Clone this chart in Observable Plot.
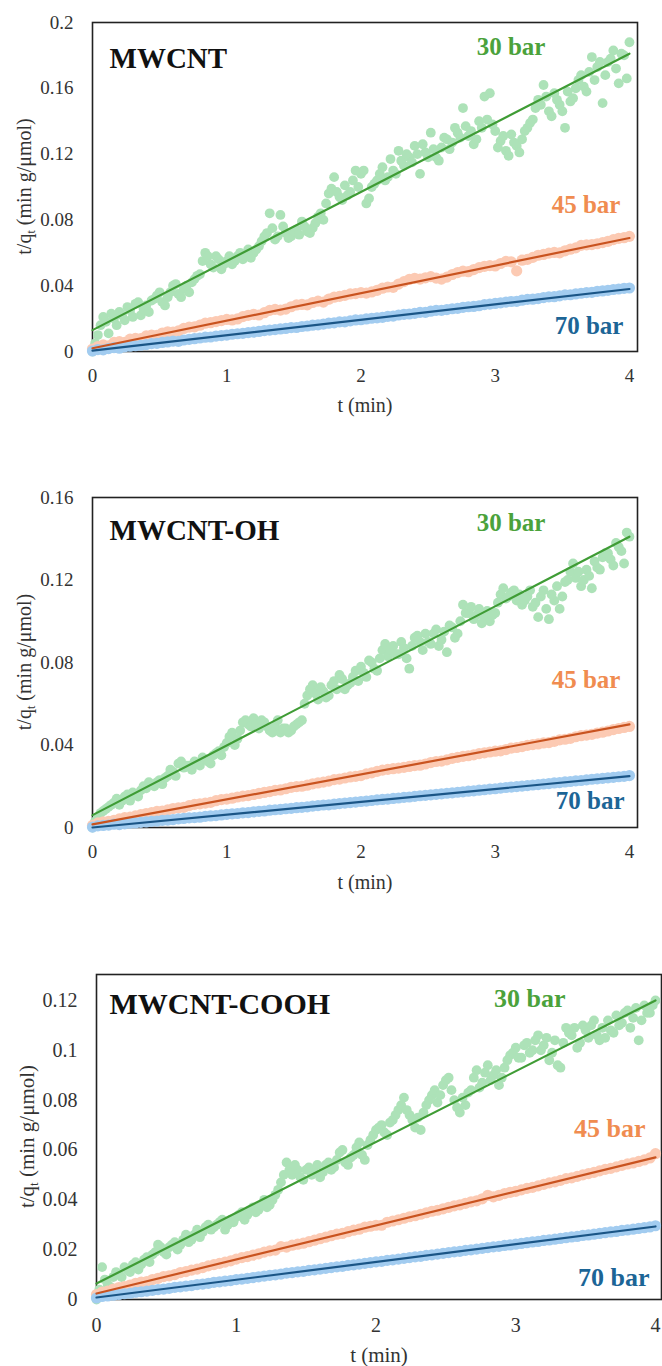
<!DOCTYPE html>
<html>
<head>
<meta charset="utf-8">
<script src="https://cdn.jsdelivr.net/npm/d3@7"></script>
<script src="https://cdn.jsdelivr.net/npm/@observablehq/plot@0.6"></script>
<style>
  body { margin: 0; background: #fff; }
  #page { position: relative; width: 662px; height: 1366px; overflow: hidden; background: #fff; }
  #page svg { position: absolute; left: 0; }
  #page svg text, #page svg tspan { font-family: "Liberation Serif", "Times New Roman", serif; font-variant-numeric: normal; }
</style>
</head>
<body>
<div id="page"></div>
<script>
// Sampling times (min)
const times = [0,0.04,0.08,0.12,0.16,0.2,0.24,0.28,0.32,0.36,0.4,0.44,0.48,0.52,0.56,0.6,0.64,0.68,0.72,0.76,0.8,0.84,0.88,0.92,0.96,
  1,1.04,1.08,1.12,1.16,1.2,1.24,1.28,1.32,1.36,1.4,1.44,1.48,1.52,1.56,1.6,1.64,1.68,1.72,1.76,1.8,1.84,1.88,1.92,1.96,
  2,2.04,2.08,2.12,2.16,2.2,2.24,2.28,2.32,2.36,2.4,2.44,2.48,2.52,2.56,2.6,2.64,2.68,2.72,2.76,2.8,2.84,2.88,2.92,2.96,
  3,3.04,3.08,3.12,3.16,3.2,3.24,3.28,3.32,3.36,3.4,3.44,3.48,3.52,3.56,3.6,3.64,3.68,3.72,3.76,3.8,3.84,3.88,3.92,3.96,4];
// Intermediate readings of the 30 bar runs (min)
const midTimes = [0.02,0.06,0.1,0.14,0.18,0.22,0.26,0.3,0.34,0.38,0.42,0.46,0.5,0.54,0.58,0.62,0.66,0.7,0.74,0.78,
  0.82,0.86,0.9,0.94,0.98,1.02,1.06,1.1,1.14,1.18,1.22,1.26,1.3,1.34,1.38,1.42,1.46,1.5,1.54,1.58,
  1.62,1.66,1.7,1.74,1.78,1.82,1.86,1.9,1.94,1.98,2.02,2.06,2.1,2.14,2.18,2.22,2.26,2.3,2.34,2.38,
  2.42,2.46,2.5,2.54,2.58,2.62,2.66,2.7,2.74,2.78,2.82,2.86,2.9,2.94,2.98,3.02,3.06,3.1,3.14,3.18,
  3.22,3.26,3.3,3.34,3.38,3.42,3.46,3.5,3.54,3.58,3.62,3.66,3.7,3.74,3.78,3.82,3.86,3.9,3.94,3.98];

const materials = ["MWCNT", "MWCNT-OH", "MWCNT-COOH"];
const pressures = ["30 bar", "45 bar", "70 bar"];
const xTicks = [0, 1, 2, 3, 4];
const yTicksMWCNT = [0, 0.04, 0.08, 0.12, 0.16, 0.2];
const yTicksOH = [0, 0.04, 0.08, 0.12, 0.16];
const yTicksCOOH = [0, 0.02, 0.04, 0.06, 0.08, 0.1, 0.12];

// t/qt (min g/μmol) — MWCNT
const mwcnt30 = [0.000,0.010,0.021,0.011,0.020,0.024,0.019,0.025,0.029,0.022,0.028,0.031,0.034,0.030,0.033,0.040,0.035,0.038,0.036,0.044,
  0.047,0.060,0.053,0.058,0.050,0.055,0.053,0.058,0.056,0.062,0.060,0.064,0.070,0.084,0.068,0.083,0.072,0.070,0.074,0.079,
  0.073,0.075,0.082,0.080,0.096,0.106,0.094,0.101,0.097,0.110,0.108,0.090,0.100,0.104,0.112,0.106,0.110,0.122,0.113,0.118,
  0.125,0.108,0.121,0.133,0.118,0.124,0.129,0.127,0.133,0.148,0.131,0.126,0.140,0.155,0.157,0.134,0.128,0.122,0.132,0.125,
  0.129,0.136,0.141,0.153,0.162,0.146,0.157,0.150,0.136,0.152,0.160,0.168,0.158,0.179,0.173,0.151,0.176,0.183,0.163,0.180,0.188];
const mwcnt30mid = [0.005,0.016,0.018,0.023,0.016,0.022,0.027,0.021,0.030,0.026,0.024,0.032,0.036,0.028,0.036,0.041,0.033,0.040,0.042,0.046,
  0.055,0.058,0.051,0.056,0.053,0.058,0.055,0.060,0.058,0.057,0.062,0.067,0.072,0.075,0.070,0.076,0.069,0.073,0.071,0.076,
  0.072,0.078,0.084,0.090,0.099,0.097,0.092,0.095,0.104,0.100,0.110,0.093,0.102,0.108,0.104,0.117,0.108,0.116,0.120,0.115,
  0.120,0.126,0.118,0.123,0.116,0.130,0.123,0.136,0.130,0.137,0.134,0.129,0.136,0.141,0.138,0.124,0.131,0.119,0.127,0.121,
  0.134,0.139,0.148,0.150,0.155,0.143,0.153,0.146,0.158,0.154,0.165,0.161,0.170,0.165,0.176,0.168,0.178,0.172,0.181,0.166];
const mwcnt45 = [0.0015,0.0030,0.0040,0.0035,0.0055,0.0060,0.0055,0.0075,0.0080,0.0078,0.0095,0.0100,0.0098,0.0112,0.0120,0.0118,0.0125,0.0140,0.0148,0.0150,
  0.0160,0.0172,0.0175,0.0182,0.0188,0.0195,0.0192,0.0198,0.0212,0.0220,0.0226,0.0222,0.0236,0.0250,0.0256,0.0252,0.0258,0.0272,0.0283,0.0286,
  0.0284,0.0298,0.0306,0.0300,0.0318,0.0330,0.0335,0.0341,0.0350,0.0352,0.0358,0.0355,0.0362,0.0372,0.0385,0.0392,0.0390,0.0410,0.0425,0.0438,
  0.0445,0.0440,0.0448,0.0455,0.0446,0.0440,0.0452,0.0468,0.0480,0.0488,0.0485,0.0498,0.0510,0.0518,0.0522,0.0520,0.0535,0.0548,0.0545,0.0490,
  0.0555,0.0560,0.0572,0.0585,0.0590,0.0598,0.0602,0.0600,0.0612,0.0622,0.0630,0.0645,0.0648,0.0650,0.0655,0.0662,0.0670,0.0680,0.0688,0.0692,0.0700];
const mwcnt70 = [0.0003,0.0012,0.0010,0.0018,0.0024,0.0020,0.0028,0.0032,0.0035,0.0038,0.0042,0.0048,0.0050,0.0055,0.0058,0.0063,0.0062,0.0070,0.0074,0.0078,
  0.0082,0.0087,0.0088,0.0094,0.0097,0.0100,0.0105,0.0108,0.0110,0.0115,0.0118,0.0122,0.0127,0.0130,0.0133,0.0137,0.0140,0.0145,0.0146,0.0152,
  0.0155,0.0160,0.0162,0.0167,0.0172,0.0174,0.0180,0.0180,0.0186,0.0192,0.0193,0.0198,0.0202,0.0205,0.0208,0.0214,0.0215,0.0222,0.0226,0.0228,
  0.0232,0.0238,0.0238,0.0245,0.0250,0.0250,0.0255,0.0260,0.0262,0.0268,0.0272,0.0274,0.0278,0.0285,0.0288,0.0292,0.0296,0.0300,0.0304,0.0305,
  0.0312,0.0317,0.0318,0.0322,0.0328,0.0332,0.0333,0.0338,0.0344,0.0345,0.0350,0.0354,0.0358,0.0360,0.0366,0.0368,0.0372,0.0377,0.0380,0.0384,0.0386];

// t/qt (min g/μmol) — MWCNT-OH
const oh30 = [0.000,0.005,0.008,0.010,0.012,0.011,0.015,0.013,0.016,0.018,0.019,0.021,0.022,0.021,0.025,0.027,0.031,0.029,0.030,0.032,
  0.030,0.033,0.031,0.036,0.035,0.041,0.046,0.043,0.051,0.050,0.053,0.048,0.051,0.047,0.049,0.046,0.048,0.047,0.050,0.052,
  0.064,0.069,0.062,0.066,0.064,0.071,0.074,0.067,0.070,0.076,0.078,0.073,0.080,0.076,0.086,0.083,0.088,0.084,0.087,0.077,
  0.092,0.090,0.094,0.089,0.096,0.091,0.085,0.097,0.094,0.108,0.104,0.101,0.106,0.102,0.100,0.104,0.113,0.111,0.114,0.110,
  0.108,0.112,0.107,0.102,0.115,0.101,0.110,0.106,0.119,0.124,0.121,0.117,0.125,0.116,0.126,0.131,0.133,0.127,0.136,0.128,0.141];
const oh30mid = [0.003,0.007,0.009,0.011,0.014,0.013,0.016,0.017,0.015,0.020,0.022,0.020,0.023,0.024,0.028,0.025,0.032,0.030,0.028,0.031,
  0.034,0.032,0.035,0.037,0.039,0.044,0.040,0.047,0.052,0.049,0.050,0.052,0.049,0.046,0.052,0.048,0.046,0.049,0.051,0.060,
  0.067,0.065,0.068,0.063,0.069,0.067,0.072,0.069,0.073,0.071,0.075,0.081,0.077,0.082,0.089,0.086,0.084,0.090,0.082,0.088,
  0.093,0.086,0.090,0.094,0.088,0.095,0.098,0.092,0.100,0.104,0.107,0.103,0.099,0.105,0.103,0.109,0.116,0.112,0.115,0.113,
  0.110,0.115,0.109,0.112,0.106,0.113,0.117,0.112,0.120,0.128,0.124,0.120,0.122,0.129,0.125,0.133,0.130,0.138,0.134,0.143];
const oh45 = [0.0010,0.0022,0.0028,0.0030,0.0035,0.0042,0.0048,0.0050,0.0056,0.0062,0.0068,0.0072,0.0078,0.0080,0.0085,0.0092,0.0095,0.0098,0.0106,0.0112,
  0.0115,0.0118,0.0122,0.0130,0.0135,0.0138,0.0142,0.0148,0.0152,0.0155,0.0160,0.0165,0.0170,0.0174,0.0180,0.0182,0.0188,0.0195,0.0198,0.0200,
  0.0205,0.0212,0.0216,0.0220,0.0225,0.0232,0.0235,0.0240,0.0245,0.0248,0.0252,0.0260,0.0265,0.0272,0.0278,0.0282,0.0285,0.0288,0.0292,0.0296,
  0.0300,0.0302,0.0308,0.0315,0.0320,0.0322,0.0328,0.0335,0.0340,0.0345,0.0348,0.0352,0.0358,0.0362,0.0366,0.0370,0.0372,0.0378,0.0385,0.0388,
  0.0392,0.0398,0.0402,0.0405,0.0410,0.0412,0.0418,0.0425,0.0428,0.0432,0.0440,0.0445,0.0448,0.0452,0.0458,0.0462,0.0468,0.0475,0.0480,0.0485,0.0490];
const oh70 = [0.0002,0.0008,0.0010,0.0012,0.0016,0.0014,0.0018,0.0021,0.0022,0.0025,0.0027,0.0030,0.0031,0.0035,0.0036,0.0038,0.0042,0.0044,0.0047,0.0048,
  0.0050,0.0054,0.0056,0.0058,0.0061,0.0064,0.0066,0.0068,0.0071,0.0072,0.0076,0.0078,0.0080,0.0084,0.0086,0.0088,0.0091,0.0093,0.0096,0.0098,
  0.0100,0.0104,0.0106,0.0109,0.0110,0.0113,0.0116,0.0118,0.0121,0.0123,0.0126,0.0128,0.0131,0.0134,0.0136,0.0138,0.0141,0.0143,0.0146,0.0148,
  0.0151,0.0154,0.0156,0.0158,0.0161,0.0163,0.0166,0.0168,0.0171,0.0173,0.0176,0.0178,0.0181,0.0183,0.0186,0.0188,0.0191,0.0194,0.0196,0.0198,
  0.0201,0.0203,0.0206,0.0208,0.0211,0.0213,0.0216,0.0218,0.0221,0.0223,0.0226,0.0228,0.0231,0.0234,0.0236,0.0238,0.0241,0.0243,0.0246,0.0248,0.0252];

// t/qt (min g/μmol) — MWCNT-COOH
const cooh30 = [0.000,0.013,0.006,0.009,0.010,0.013,0.011,0.015,0.014,0.017,0.018,0.022,0.019,0.021,0.023,0.022,0.026,0.024,0.028,0.027,
  0.030,0.029,0.031,0.028,0.032,0.033,0.035,0.034,0.037,0.036,0.040,0.038,0.042,0.047,0.055,0.050,0.052,0.048,0.053,0.051,
  0.049,0.054,0.052,0.056,0.060,0.054,0.058,0.063,0.056,0.064,0.068,0.070,0.066,0.072,0.076,0.081,0.074,0.069,0.068,0.078,
  0.082,0.079,0.086,0.089,0.080,0.075,0.078,0.084,0.092,0.087,0.094,0.090,0.086,0.093,0.098,0.101,0.097,0.103,0.100,0.106,
  0.102,0.096,0.104,0.093,0.109,0.106,0.101,0.110,0.105,0.112,0.104,0.105,0.108,0.114,0.111,0.116,0.113,0.104,0.118,0.115,0.120];
const cooh30mid = [0.004,0.008,0.005,0.011,0.009,0.012,0.014,0.012,0.016,0.015,0.019,0.021,0.018,0.022,0.020,0.024,0.023,0.026,0.025,0.029,
  0.028,0.030,0.032,0.030,0.031,0.034,0.032,0.036,0.035,0.038,0.037,0.040,0.044,0.050,0.052,0.054,0.049,0.052,0.050,0.054,
  0.051,0.055,0.053,0.059,0.055,0.057,0.061,0.058,0.062,0.066,0.069,0.067,0.071,0.074,0.078,0.076,0.072,0.073,0.075,0.080,
  0.084,0.082,0.088,0.084,0.077,0.081,0.083,0.089,0.085,0.091,0.088,0.092,0.089,0.096,0.099,0.097,0.102,0.099,0.104,0.100,
  0.105,0.099,0.094,0.103,0.107,0.109,0.103,0.108,0.110,0.106,0.109,0.112,0.107,0.110,0.115,0.109,0.117,0.112,0.115,0.118];
const cooh45 = [0.0020,0.0030,0.0034,0.0042,0.0048,0.0052,0.0058,0.0065,0.0070,0.0072,0.0080,0.0085,0.0092,0.0095,0.0100,0.0108,0.0112,0.0118,0.0122,0.0128,
  0.0135,0.0140,0.0145,0.0150,0.0155,0.0162,0.0168,0.0172,0.0178,0.0183,0.0190,0.0195,0.0198,0.0212,0.0210,0.0218,0.0222,0.0226,0.0232,0.0238,
  0.0244,0.0250,0.0256,0.0262,0.0265,0.0272,0.0278,0.0282,0.0290,0.0294,0.0298,0.0298,0.0310,0.0315,0.0320,0.0326,0.0332,0.0336,0.0342,0.0348,
  0.0354,0.0358,0.0364,0.0370,0.0376,0.0380,0.0386,0.0392,0.0396,0.0404,0.0418,0.0412,0.0418,0.0425,0.0430,0.0434,0.0440,0.0446,0.0450,0.0456,
  0.0462,0.0468,0.0472,0.0478,0.0485,0.0488,0.0494,0.0500,0.0505,0.0510,0.0516,0.0522,0.0526,0.0532,0.0538,0.0544,0.0548,0.0554,0.0560,0.0568,0.0585];
const cooh70 = [0.0006,0.0012,0.0014,0.0017,0.0020,0.0023,0.0025,0.0029,0.0031,0.0034,0.0037,0.0040,0.0042,0.0045,0.0049,0.0051,0.0054,0.0056,0.0060,0.0062,
  0.0065,0.0069,0.0071,0.0074,0.0076,0.0080,0.0082,0.0085,0.0088,0.0091,0.0094,0.0097,0.0099,0.0102,0.0106,0.0108,0.0111,0.0113,0.0117,0.0119,
  0.0122,0.0125,0.0128,0.0131,0.0133,0.0137,0.0139,0.0142,0.0145,0.0148,0.0151,0.0153,0.0157,0.0159,0.0162,0.0165,0.0168,0.0171,0.0173,0.0177,
  0.0179,0.0182,0.0185,0.0188,0.0191,0.0193,0.0197,0.0199,0.0202,0.0205,0.0208,0.0211,0.0213,0.0217,0.0219,0.0222,0.0225,0.0228,0.0231,0.0233,
  0.0237,0.0239,0.0242,0.0245,0.0248,0.0251,0.0253,0.0257,0.0259,0.0262,0.0265,0.0268,0.0271,0.0273,0.0277,0.0279,0.0282,0.0285,0.0288,0.0291,0.0296];

// Linear fits (value at t = 0 and t = 4), order: 30, 45, 70 bar
const mwcntFitStart = [0.013, 0.002, 0.0005];
const mwcntFitEnd   = [0.181, 0.069, 0.038];
const ohFitStart    = [0.006, 0.0015, 0.0];
const ohFitEnd      = [0.141, 0.050, 0.0249];
const coohFitStart  = [0.0064, 0.0024, 0.0008];
const coohFitEnd    = [0.120, 0.057, 0.0293];

// Styling
const dotColors  = ["#ade2b8", "#fccab3", "#a2ccf0"];
const lineColors = ["#3f9c35", "#c9531f", "#1a5586"];
const tagColors  = ["#4ba23b", "#f08c50", "#1c6596"];
const serif = "Liberation Serif";

const panels = [
  { material: materials[0], series: [mwcnt30, mwcnt45, mwcnt70], mid: mwcnt30mid, fitStart: mwcntFitStart, fitEnd: mwcntFitEnd,
    yTicks: yTicksMWCNT, yMax: 0.2, xMax: 4.06,
    top: 0, height: 430, marginTop: 22, marginBottom: 79, marginLeft: 92, marginRight: 25,
    tickFont: 19, tickPadX: 17, labelFont: 20, titleFont: 29, tagFont: 25, xLabelDy: 54, yLabelX: 25,
    titleAt: [0.127, 0.1726], tagAt: [[3.374, 0.180], [3.933, 0.0839], [3.955, 0.0109]] },
  { material: materials[1], series: [oh30, oh45, oh70], mid: oh30mid, fitStart: ohFitStart, fitEnd: ohFitEnd,
    yTicks: yTicksOH, yMax: 0.16, xMax: 4.06,
    top: 470, height: 440, marginTop: 27, marginBottom: 83, marginLeft: 92, marginRight: 25,
    tickFont: 19, tickPadX: 17, labelFont: 20, titleFont: 29, tagFont: 25, xLabelDy: 55, yLabelX: 25,
    titleAt: [0.127, 0.1392], tagAt: [[3.374, 0.144], [3.933, 0.0674], [3.963, 0.0092]] },
  { material: materials[2], series: [cooh30, cooh45, cooh70], mid: cooh30mid, fitStart: coohFitStart, fitEnd: coohFitEnd,
    yTicks: yTicksCOOH, yMax: 0.1304, xMax: 4.043,
    top: 950, height: 416, marginTop: 24, marginBottom: 67, marginLeft: 96, marginRight: 1,
    tickFont: 20, tickPadX: 18, labelFont: 21, titleFont: 30, tagFont: 26, xLabelDy: 56, yLabelX: 27,
    titleAt: [0.093, 0.1144], tagAt: [[3.356, 0.1172], [3.928, 0.065], [3.957, 0.0056]] }
];

function drawPanel(p) {
  const green = times.map((t, i) => ({t, v: p.series[0][i]}))
    .concat(midTimes.map((t, i) => ({t, v: p.mid[i]})));
  const dotMarks = [
    Plot.dot(green, {x: "t", y: "v", r: 4.9, fill: dotColors[0], stroke: "none"}),
    ...[1, 2].map(k =>
      Plot.dot(times.map((t, i) => ({t, v: p.series[k][i]})), {
        x: "t", y: "v", r: 5.6, fill: dotColors[k], stroke: "none"
      }))
  ];
  const lineMarks = p.series.map((_, k) =>
    Plot.line([{t: 0, v: p.fitStart[k]}, {t: 4, v: p.fitEnd[k]}], {
      x: "t", y: "v", stroke: lineColors[k], strokeWidth: 2.2
    })
  );
  const tagMarks = pressures.map((label, k) =>
    Plot.text([{t: p.tagAt[k][0], v: p.tagAt[k][1], label}], {
      x: "t", y: "v", text: "label", textAnchor: "end", lineAnchor: "bottom",
      fontSize: p.tagFont, fontWeight: "bold", fill: tagColors[k], fontFamily: serif
    })
  );

  const svg = Plot.plot({
    width: 662,
    height: p.height,
    marginTop: p.marginTop,
    marginBottom: p.marginBottom,
    marginLeft: p.marginLeft,
    marginRight: p.marginRight,
    style: {fontFamily: serif, color: "#333", background: "transparent"},
    x: {domain: [0, p.xMax]},
    y: {domain: [0, p.yMax]},
    marks: [
      Plot.frame({stroke: "#222", strokeWidth: 1.6}),
      ...dotMarks,
      ...lineMarks,
      Plot.axisX({ticks: xTicks, tickSize: 0, tickPadding: p.tickPadX, fontSize: p.tickFont, fontFamily: serif,
        fill: "#333", label: null, tickFormat: d => String(d)}),
      Plot.axisY({ticks: p.yTicks, tickSize: 0, tickPadding: 19, fontSize: p.tickFont, fontFamily: serif,
        fill: "#333", label: null, tickFormat: d => String(d)}),
      Plot.text([{t: p.titleAt[0], v: p.titleAt[1], label: p.material}], {
        x: "t", y: "v", text: "label", textAnchor: "start", lineAnchor: "bottom",
        fontSize: p.titleFont, fontWeight: "bold", fill: "#111", fontFamily: serif
      }),
      ...tagMarks,
      Plot.text(["t (min)"], {text: d => d, frameAnchor: "bottom", dy: p.xLabelDy, lineAnchor: "middle",
        fontSize: p.labelFont, fill: "#333", fontFamily: serif})
    ]
  });

  // Rotated y-axis title with subscript
  const cy = p.marginTop + (p.height - p.marginTop - p.marginBottom) / 2;
  const lab = d3.select(svg).append("text")
    .attr("transform", `translate(${p.yLabelX},${cy}) rotate(-90)`)
    .attr("text-anchor", "middle")
    .attr("dy", "0.32em")
    .attr("font-size", p.labelFont)
    .attr("fill", "#333");
  lab.append("tspan").text("t/q");
  lab.append("tspan").attr("font-size", p.labelFont * 0.62).attr("dy", 4).text("t");
  lab.append("tspan").attr("dy", -4).text(" (min g/μmol)");

  svg.style.top = p.top + "px";
  document.getElementById("page").appendChild(svg);
}

panels.forEach(drawPanel);
</script>
</body>
</html>
